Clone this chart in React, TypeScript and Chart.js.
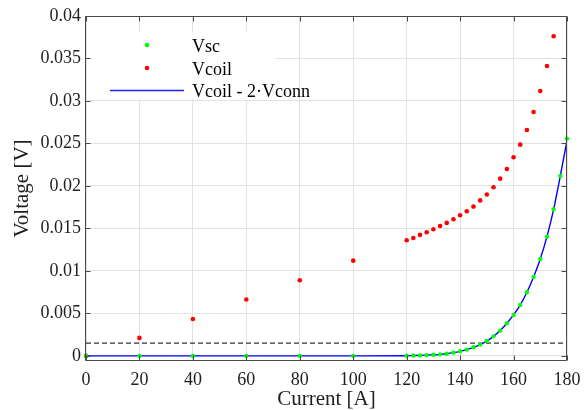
import React, { useEffect, useRef } from "react";
import { Chart, registerables } from "chart.js";

Chart.register(...registerables);

// ---- Data ----
const vscCurrents = [0, 20, 40, 60, 80, 100, 120, 122.5, 125, 127.5, 130, 132.5, 135, 137.5, 140, 142.5, 145, 147.5, 150, 152.5, 155, 157.5, 160, 162.5, 165, 167.5, 170, 172.5, 175, 177.5, 180];
const vscValues = [0, 0, 0, 0, 0, 0, 0.00002, 0.00004, 0.00006, 0.00009, 0.00013, 0.00018, 0.00026, 0.00038, 0.00054, 0.00074, 0.00101, 0.00133, 0.00175, 0.0023, 0.00298, 0.00385, 0.00482, 0.006, 0.00749, 0.00929, 0.01141, 0.01404, 0.01725, 0.02118, 0.02557];

const vcoilCurrents = [0, 20, 40, 60, 80, 100, 120, 122.5, 125, 127.5, 130, 132.5, 135, 137.5, 140, 142.5, 145, 147.5, 150, 152.5, 155, 157.5, 160, 162.5, 165, 167.5, 170, 172.5, 175];
const vcoilValues = [0, 0.00212, 0.00435, 0.00663, 0.0089, 0.01121, 0.01361, 0.01388, 0.01424, 0.01455, 0.0149, 0.01529, 0.01565, 0.01608, 0.01655, 0.01702, 0.01757, 0.0183, 0.019, 0.01984, 0.02086, 0.022, 0.02337, 0.02486, 0.02659, 0.02871, 0.03118, 0.03412, 0.03761];

const diffCurrents = [0, 20, 40, 60, 80, 100, 120, 122.5, 125, 127.5, 130, 132.5, 135, 137.5, 140, 142.5, 145, 147.5, 150, 152.5, 155, 157.5, 160, 162.5, 165, 167.5, 170, 172.5, 175, 177.5, 180];
const diffValues = [0, 0, 0, 0, 0, 0, 0.00002, 0.00004, 0.00006, 0.00009, 0.00013, 0.00018, 0.00026, 0.00038, 0.00054, 0.00074, 0.00101, 0.00133, 0.00175, 0.0023, 0.00298, 0.00385, 0.00482, 0.006, 0.00749, 0.00929, 0.01141, 0.01404, 0.01725, 0.02118, 0.02535];

const thresholdCurrents = [0, 180];
const thresholdLevel = 0.0015;

const xTickValues = [0, 20, 40, 60, 80, 100, 120, 140, 160, 180];
const yTickValues = [0, 0.005, 0.01, 0.015, 0.02, 0.025, 0.03, 0.035, 0.04];

const legendLabels = ["Vsc", "Vcoil", "Vcoil - 2·Vconn"];

const FONT = "'Liberation Serif', 'Times New Roman', serif";
const TEXT = "#1f1f1f";
const FRAME = "#4a4a4a";

const toPts = (xs: number[], ys: number[]) => xs.map((x, i) => ({ x, y: ys[i] }));

const matlabFrame = {
  id: "matlabFrame",
  beforeDatasetsDraw(chart: any) {
    const ctx = chart.ctx;
    ctx.save();
    ctx.fillStyle = "#ffffff";
    ctx.fillRect(91, 32, 184, 67);
    ctx.restore();
  },
  afterDraw(chart: any) {
    const ctx = chart.ctx;
    const ca = chart.chartArea;
    const xs = chart.scales.x;
    const ys = chart.scales.y;
    const L = Math.round(ca.left) - 0.5;
    const R = Math.round(ca.right) - 0.5;
    const T = Math.round(ca.top) + 0.5;
    const B = Math.round(ca.bottom) - 0.5;
    ctx.save();
    ctx.strokeStyle = FRAME;
    ctx.lineWidth = 1;
    ctx.beginPath();
    ctx.rect(L, T, R - L, B - T);
    const tl = 5;
    xTickValues.forEach((v) => {
      const px = Math.round(xs.getPixelForValue(v)) + 0.5;
      ctx.moveTo(px, B);
      ctx.lineTo(px, B - tl);
      ctx.moveTo(px, T);
      ctx.lineTo(px, T + tl);
    });
    yTickValues.forEach((v) => {
      const py = Math.round(ys.getPixelForValue(v)) + 0.5;
      ctx.moveTo(L, py);
      ctx.lineTo(L + tl, py);
      ctx.moveTo(R, py);
      ctx.lineTo(R - tl, py);
    });
    ctx.stroke();

    // legend
    ctx.fillStyle = "#00ff00";
    ctx.beginPath();
    ctx.arc(147, 45, 2.3, 0, Math.PI * 2);
    ctx.fill();
    ctx.fillStyle = "#ff0000";
    ctx.beginPath();
    ctx.arc(147, 68, 2.3, 0, Math.PI * 2);
    ctx.fill();
    ctx.strokeStyle = "#2020ff";
    ctx.lineWidth = 1.4;
    ctx.beginPath();
    ctx.moveTo(110, 90.5);
    ctx.lineTo(184, 90.5);
    ctx.stroke();
    ctx.fillStyle = "#000000";
    ctx.font = `18px ${FONT}`;
    ctx.textAlign = "left";
    ctx.textBaseline = "alphabetic";
    ctx.fillText(legendLabels[0], 192, 52);
    ctx.fillText(legendLabels[1], 192, 74.5);
    ctx.fillText(legendLabels[2], 192, 96.5);
    ctx.restore();
  },
};

export default function App() {
  const ref = useRef<HTMLCanvasElement | null>(null);

  useEffect(() => {
    if (!ref.current) return;
    const chart = new Chart(ref.current, {
      type: "scatter",
      data: {
        datasets: [
          {
            label: legendLabels[0],
            data: toPts(vscCurrents, vscValues),
            showLine: false,
            pointRadius: 2.2,
            pointBorderWidth: 0,
            pointBackgroundColor: "#00ff00",
            backgroundColor: "#00ff00",
            clip: 4,
            order: 0,
          },
          {
            label: legendLabels[1],
            data: toPts(vcoilCurrents, vcoilValues),
            showLine: false,
            pointRadius: 2.3,
            pointBorderWidth: 0,
            pointBackgroundColor: "#ff0000",
            backgroundColor: "#ff0000",
            clip: 4,
            order: 1,
          },
          {
            label: legendLabels[2],
            data: toPts(diffCurrents, diffValues),
            showLine: true,
            pointRadius: 0,
            borderColor: "#0000ff",
            borderWidth: 1.4,
            cubicInterpolationMode: "monotone",
            order: 2,
          },
          {
            label: "threshold",
            data: thresholdCurrents.map((x) => ({ x, y: thresholdLevel })),
            showLine: true,
            pointRadius: 0,
            borderColor: "#333333",
            borderWidth: 1.2,
            borderDash: [5, 3],
            order: 3,
          },
        ] as any,
      },
      options: {
        animation: false,
        responsive: false,
        layout: { padding: { top: 16, right: 17, left: 0, bottom: 0 } },
        plugins: {
          legend: { display: false },
          tooltip: { enabled: false },
        },
        scales: {
          x: {
            type: "linear",
            min: 0,
            max: 180,
            afterBuildTicks: (s: any) => {
              s.ticks = xTickValues.map((v) => ({ value: v }));
            },
            afterFit: (s: any) => {
              s.height = 49;
              s.paddingLeft = 0;
              s.paddingRight = 0;
            },
            grid: { color: "#e2e2e2", drawTicks: false, lineWidth: 1 },
            border: { display: false },
            ticks: {
              font: { family: FONT, size: 18 },
              color: TEXT,
              padding: 8,
              maxRotation: 0,
              autoSkip: false,
              callback: (v: any) => String(v),
            },
            title: {
              display: true,
              text: "Current [A]",
              font: { family: FONT, size: 21, lineHeight: 1 },
              color: TEXT,
              padding: { top: 0, bottom: 0 },
            },
          },
          y: {
            type: "linear",
            min: -0.0006,
            max: 0.04,
            afterBuildTicks: (s: any) => {
              s.ticks = yTickValues.map((v) => ({ value: v }));
            },
            afterFit: (s: any) => {
              s.width = 86;
              s.paddingTop = 0;
              s.paddingBottom = 0;
            },
            grid: { color: "#e2e2e2", drawTicks: false, lineWidth: 1 },
            border: { display: false },
            ticks: {
              font: { family: FONT, size: 18 },
              color: TEXT,
              padding: 5,
              autoSkip: false,
              callback: (v: any) => String(Number(Number(v).toFixed(4))),
            },
            title: {
              display: true,
              text: "Voltage [V]",
              font: { family: FONT, size: 21, lineHeight: 1 },
              color: TEXT,
              padding: { top: 12, bottom: 0 },
            },
          },
        },
      } as any,
      plugins: [matlabFrame],
    });
    return () => chart.destroy();
  }, []);

  return (
    <div style={{ position: "fixed", left: 0, top: 0, width: 584, height: 410, background: "#fff" }}>
      <canvas ref={ref} width={584} height={410} style={{ display: "block" }} />
    </div>
  );
}
